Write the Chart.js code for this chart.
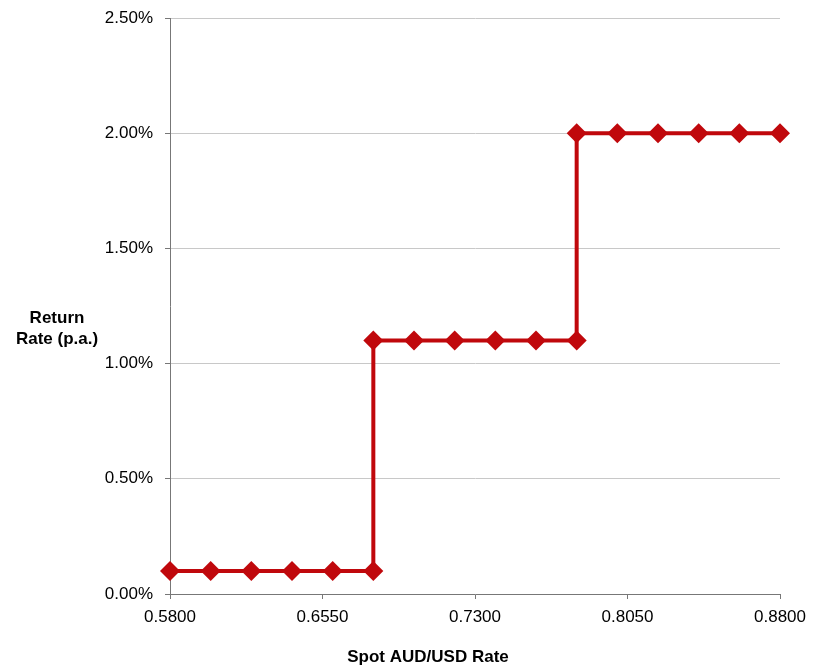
<!DOCTYPE html>
<html>
<head>
<meta charset="utf-8">
<script src="https://cdn.jsdelivr.net/npm/chart.js@4"></script>
<style>
  body { margin: 0; background: #fff; }
</style>
</head>
<body>
<canvas id="chart" width="817" height="668"></canvas>
<script>
'use strict';

// spot rate (x) and return rate in % p.a. (y), stepped
var spotRates = [0.58, 0.60, 0.62, 0.64, 0.66, 0.68,
                 0.68, 0.70, 0.72, 0.74, 0.76, 0.78,
                 0.78, 0.80, 0.82, 0.84, 0.86, 0.88];
var returnRates = [0.1, 0.1, 0.1, 0.1, 0.1, 0.1,
                   1.1, 1.1, 1.1, 1.1, 1.1, 1.1,
                   2.0, 2.0, 2.0, 2.0, 2.0, 2.0];
var xTicks = [0.58, 0.655, 0.73, 0.805, 0.88];
var yTicks = [0, 0.5, 1.0, 1.5, 2.0, 2.5];

var points = [];
for (var i = 0; i < spotRates.length; i++) {
  points.push({ x: spotRates[i], y: returnRates[i] });
}

var red = '#c0080c';
var family = '"Liberation Sans", Arial, sans-serif';
var font = { family: family, size: 17 };

// axis titles: y one is horizontal and x one sits left of centre in the original
var axisTitles = {
  id: 'axisTitles',
  afterDraw: function (chart) {
    var c = chart.ctx;
    c.save();
    c.fillStyle = '#000';
    c.font = 'bold 17px ' + family;
    c.textAlign = 'center';
    c.textBaseline = 'middle';
    c.fillText('Return', 57, 318);
    c.fillText('Rate (p.a.)', 57, 339);
    c.fillText('Spot AUD/USD Rate', 428, 657);
    c.restore();
  }
};

var ctx = document.getElementById('chart').getContext('2d');

new Chart(ctx, {
  type: 'scatter',
  data: {
    datasets: [{
      data: points,
      showLine: true,
      clip: false,
      borderColor: red,
      backgroundColor: red,
      borderWidth: 4,
      pointStyle: 'rectRot',
      pointRadius: 10,
      pointHoverRadius: 10,
      pointBorderWidth: 0
    }]
  },
  options: {
    responsive: false,
    devicePixelRatio: 1,
    animation: false,
    layout: { padding: { top: 18, right: 37, left: 0, bottom: 0 } },
    plugins: {
      legend: { display: false },
      tooltip: { enabled: false }
    },
    scales: {
      x: {
        type: 'linear',
        min: 0.58,
        max: 0.88,
        afterFit: function (s) {
          s.height = 74;
          s.paddingLeft = 0;
          s.paddingRight = 0;
        },
        afterBuildTicks: function (s) {
          s.ticks = xTicks.map(function (v) { return { value: v }; });
        },
        ticks: {
          color: '#000',
          font: font,
          padding: 8,
          maxRotation: 0,
          callback: function (v) { return Number(v).toFixed(4); }
        },
        grid: {
          drawOnChartArea: false,
          tickLength: 5,
          tickColor: '#777'
        },
        border: { color: '#777', width: 1 }
      },
      y: {
        min: 0,
        max: 2.5,
        afterFit: function (s) {
          s.width = 170;
          s.paddingTop = 0;
          s.paddingBottom = 0;
        },
        afterBuildTicks: function (s) {
          s.ticks = yTicks.map(function (v) { return { value: v }; });
        },
        ticks: {
          color: '#000',
          font: font,
          padding: 12,
          callback: function (v) { return Number(v).toFixed(2) + '%'; }
        },
        grid: {
          color: '#c8c8c8',
          lineWidth: 1,
          tickLength: 5,
          tickColor: '#777'
        },
        border: { color: '#777', width: 1 }
      }
    }
  },
  plugins: [axisTitles]
});
</script>
</body>
</html>
